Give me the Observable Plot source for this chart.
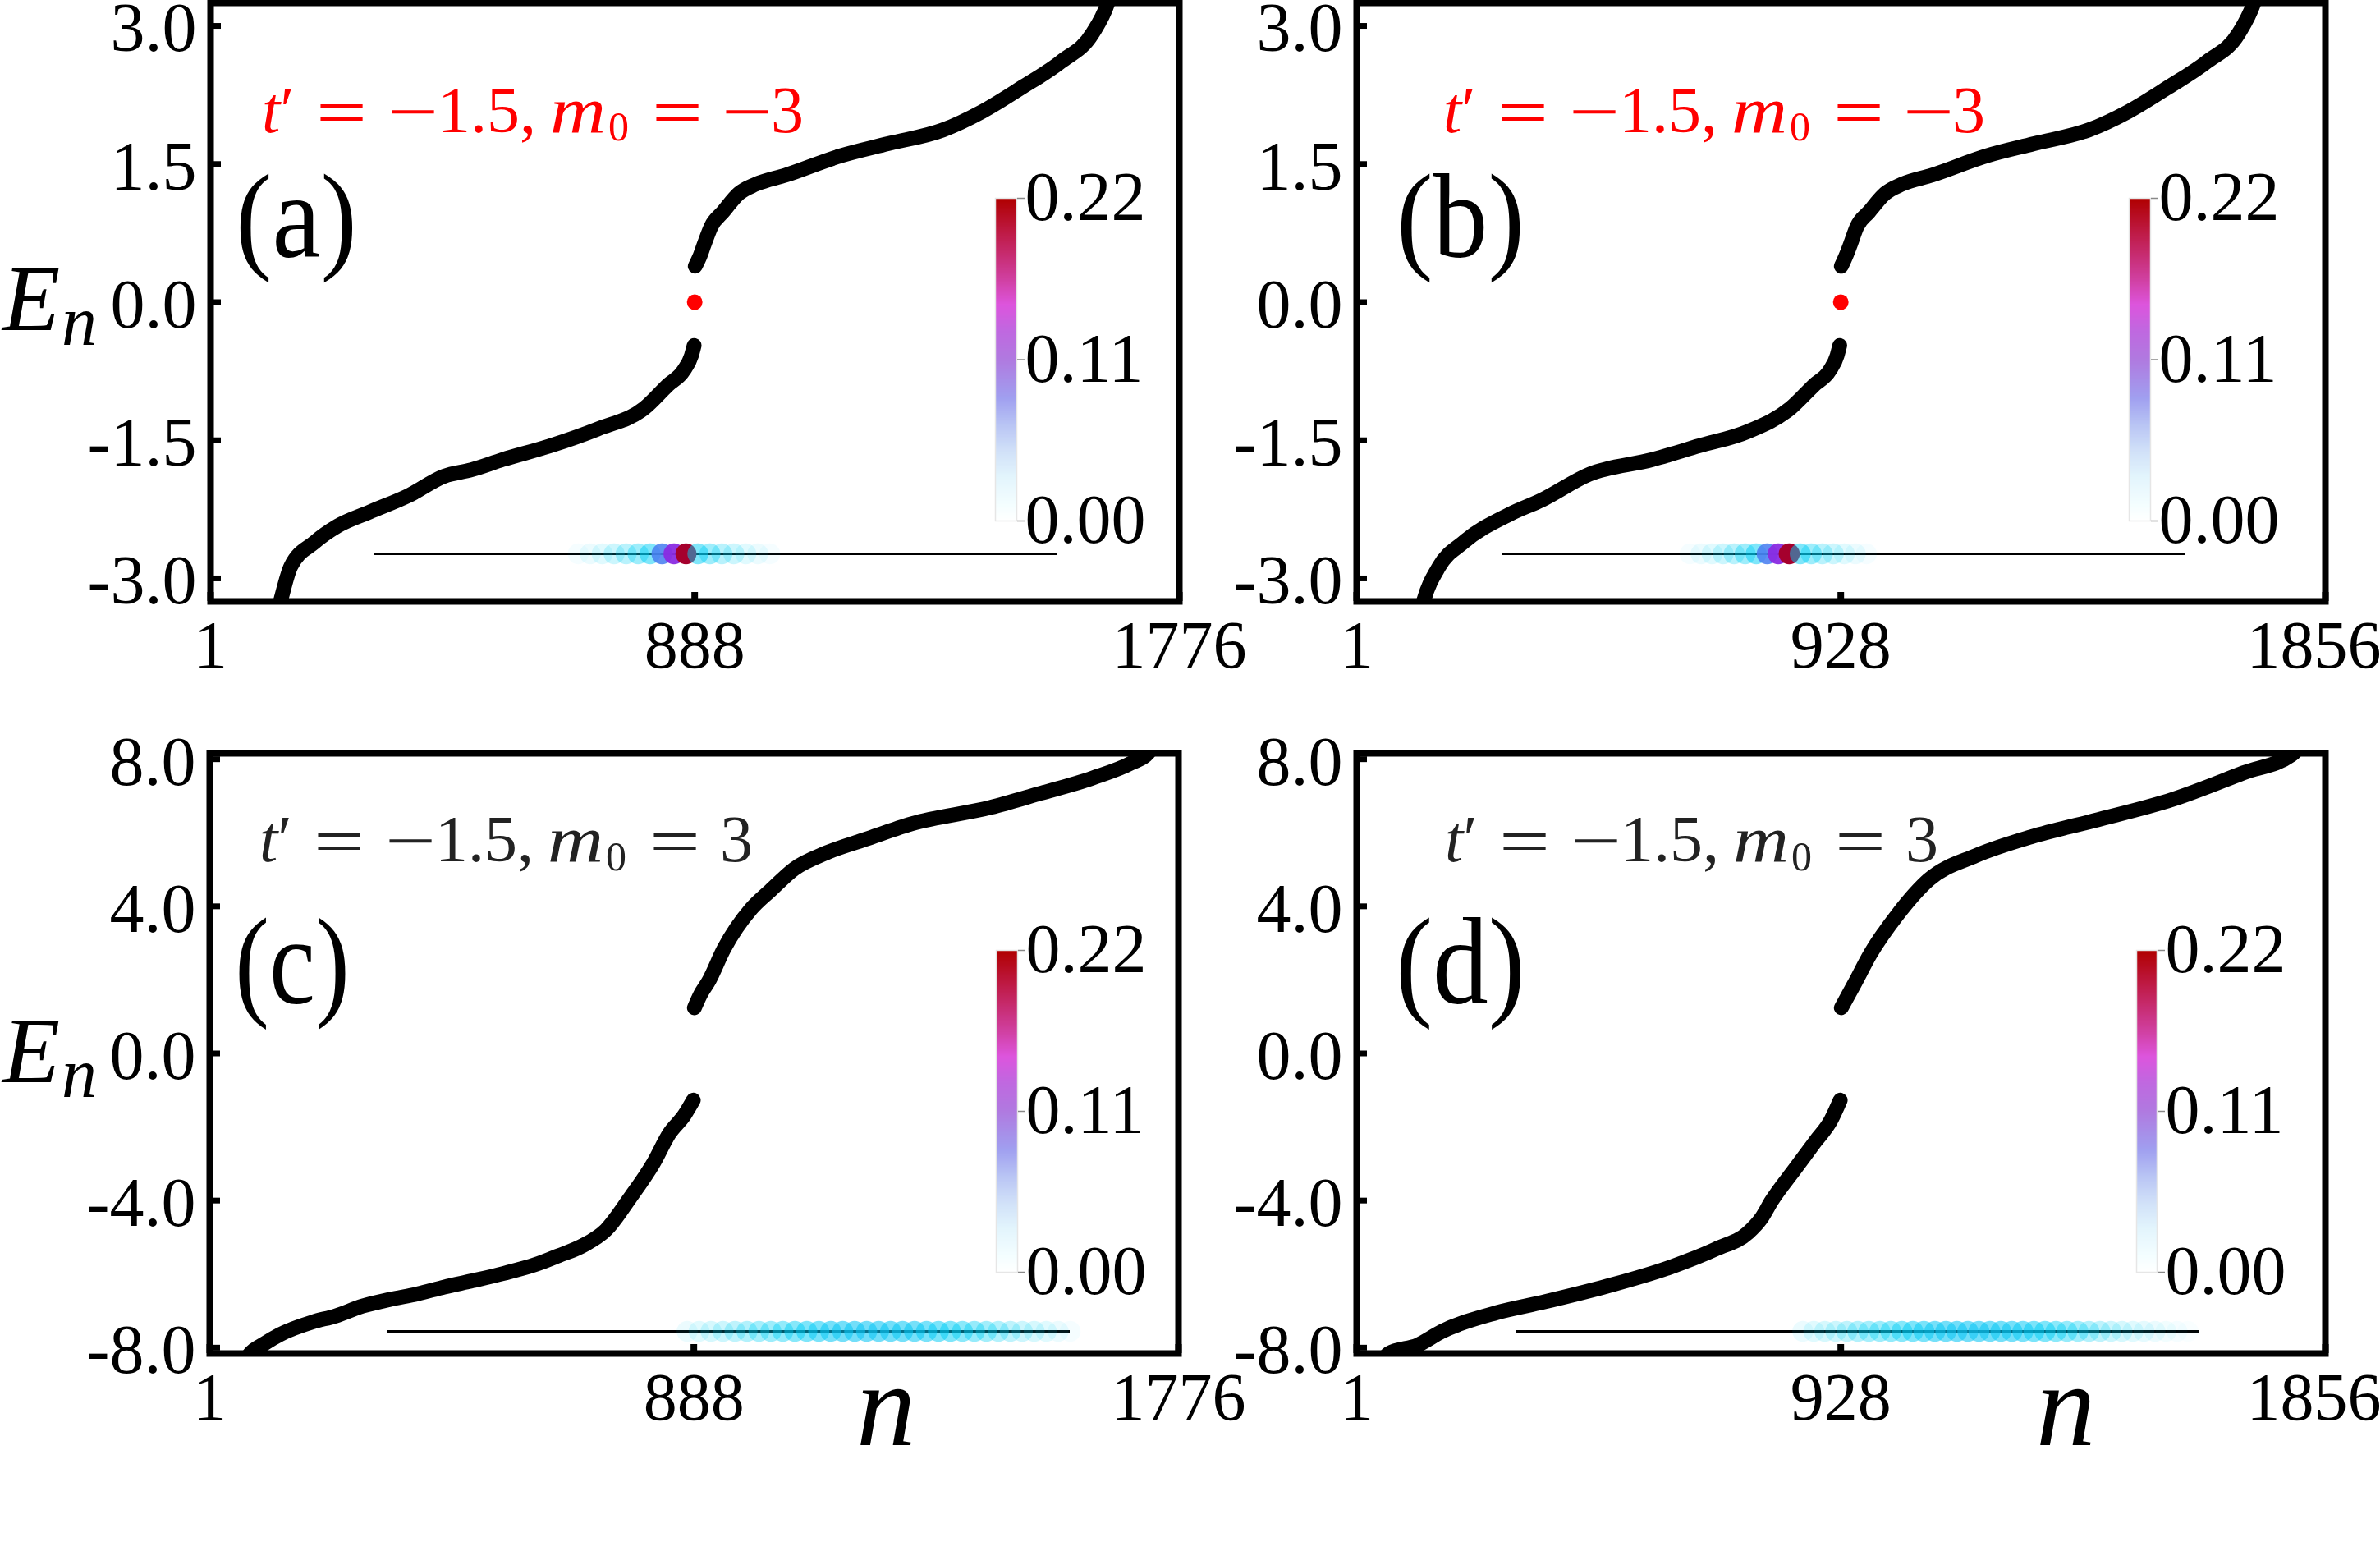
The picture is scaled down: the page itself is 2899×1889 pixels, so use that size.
<!DOCTYPE html>
<html><head><meta charset="utf-8">
<script src="https://cdn.jsdelivr.net/npm/d3@7"></script>
<script src="https://cdn.jsdelivr.net/npm/@observablehq/plot@0.6"></script>
<style>
body{margin:0;background:#fff;}
#fig{position:relative;width:2899px;height:1889px;background:#fff;overflow:hidden;}
</style></head><body><div id="fig"></div>
<script>
// ---------- DATA ----------
// Panel (a): N = 1776, t' = -1.5, m0 = -3
const aLowN = [120,129,148,191,234,292,364,429,479,536,623,709,796,839,868,882,887];
const aLowE = [-3.45,-3.25,-2.87,-2.61,-2.43,-2.28,-2.10,-1.89,-1.82,-1.71,-1.56,-1.38,-1.15,-0.90,-0.74,-0.58,-0.47];
const aUpN  = [889,897,905,918,940,969,1000,1055,1156,1242,1343,1415,1487,1559,1617,1645,1655];
const aUpE  = [0.39,0.49,0.62,0.82,0.98,1.18,1.28,1.38,1.59,1.72,1.87,2.07,2.33,2.61,2.92,3.25,3.45];
const aZeroN = [888];
const aZeroE = [0];
// Panel (b): N = 1856, t' = -1.5, m0 = -3
const bLowN = [120,129,159,205,295,355,446,567,657,748,832,877,907,921,926];
const bLowE = [-3.45,-3.25,-2.87,-2.61,-2.30,-2.15,-1.87,-1.71,-1.56,-1.41,-1.15,-0.90,-0.74,-0.58,-0.47];
const bUpN  = [929,937,946,959,982,1013,1045,1103,1208,1298,1403,1479,1554,1629,1690,1719,1730];
const bUpE  = [0.39,0.49,0.62,0.82,0.98,1.18,1.28,1.38,1.59,1.72,1.87,2.07,2.33,2.61,2.92,3.25,3.45];
const bZeroN = [928];
const bZeroE = [0];
// Panel (c): N = 1776, t' = -1.5, m0 = 3
const cLowN = [60,75,100,130,190,231,281,331,381,431,483,540,598,640,684,727,771,814,843,871,887];
const cLowE = [-8.5,-8.16,-7.9,-7.64,-7.30,-7.14,-6.87,-6.69,-6.54,-6.35,-6.18,-5.98,-5.74,-5.50,-5.23,-4.80,-3.93,-2.98,-2.18,-1.67,-1.27];
const cUpN  = [889,900,915,943,993,1029,1072,1130,1202,1288,1432,1518,1619,1690,1720,1735];
const cUpE  = [1.24,1.60,1.96,2.84,3.93,4.44,5.02,5.45,5.82,6.25,6.69,7.05,7.49,7.90,8.16,8.5];
// Panel (d): N = 1856, t' = -1.5, m0 = 3
const dLowN = [45,62,118,164,269,359,480,600,690,751,775,796,841,879,909,927];
const dLowE = [-8.5,-8.16,-7.93,-7.56,-7.05,-6.76,-6.33,-5.82,-5.31,-4.87,-4.50,-4.00,-3.13,-2.40,-1.82,-1.27];
const dUpN  = [929,954,984,1037,1097,1187,1293,1413,1564,1699,1795,1810];
const dUpE  = [1.24,1.89,2.69,3.78,4.73,5.38,5.89,6.33,6.91,7.63,8.16,8.5];

// Tick values
const yTicksTop = [-3.0,-1.5,0.0,1.5,3.0];
const yTicksBottom = [-8.0,-4.0,0.0,4.0,8.0];
const xTicksA = [1,888,1776];
const xTicksB = [1,928,1856];
const cbarTicks = [0.00,0.11,0.22];

// Inset: weight on chain sites (site index, weight)
const aSiteIdx = [17,18,19,20,21,22,23,24,25,26,27,28,29,30,31,32,33];
const aSiteP   = [0.0005,0.001,0.002,0.004,0.007,0.012,0.02,0.07,0.15,0.22,0.02,0.012,0.007,0.004,0.002,0.001,0.0005];
const bSiteIdx = [17,18,19,20,21,22,23,24,25,26,27,28,29,30,31,32,33];
const bSiteP   = [0.0005,0.001,0.002,0.004,0.007,0.012,0.02,0.07,0.15,0.22,0.02,0.012,0.007,0.004,0.002,0.001,0.0005];
const cSiteIdx = [25,26,27,28,29,30,31,32,33,34,35,36,37,38,39,40,41,42,43,44,45,46,47,48,49,50,51,52,53,54,55,56,57];
const cSiteP   = [0.001,0.002,0.003,0.004,0.006,0.008,0.010,0.012,0.015,0.018,0.021,0.024,0.027,0.029,0.030,0.030,0.030,0.029,0.028,0.027,0.025,0.023,0.020,0.017,0.014,0.011,0.008,0.006,0.004,0.003,0.002,0.001,0.0005];
const dSiteIdx = [26,27,28,29,30,31,32,33,34,35,36,37,38,39,40,41,42,43,44,45,46,47,48,49,50,51,52,53,54,55,56,57,58,59,60,61];
const dSiteP   = [0.001,0.002,0.003,0.004,0.006,0.008,0.010,0.012,0.015,0.018,0.021,0.024,0.027,0.029,0.030,0.030,0.030,0.029,0.028,0.027,0.025,0.023,0.020,0.017,0.014,0.011,0.008,0.006,0.004,0.003,0.002,0.0015,0.001,0.0007,0.0005,0.0003];

// Colour maps
const cbarMax = 0.22;
const cbarStops  = [0, 0.05, 0.14, 0.22, 0.30, 0.38, 0.50, 0.59, 0.67, 0.75, 0.88, 1];
const cbarColors = ["#ffffff","#f4feff","#e2f4fc","#d0e0f8","#b8c4f4","#a0a0f0","#b07ae0","#c068e0","#dd55dd","#d040a0","#c01e4e","#b00000"];
const dotStops  = [0, 0.001, 0.004, 0.01, 0.02, 0.035, 0.07, 0.15, 0.22];
const dotColors = ["rgba(0,210,245,0)","rgba(0,210,245,0.08)","rgba(0,210,245,0.2)","rgba(0,208,245,0.35)",
                   "rgba(0,205,245,0.5)","rgba(20,195,245,0.62)","rgba(74,128,240,0.88)","rgba(138,43,226,0.95)","rgba(165,0,45,1)"];

// ---------- FONT PICK ----------
function pickFont(cands, fallback) {
  const ctx = document.createElement("canvas").getContext("2d");
  const s = "mmmmmmmmmmlli1.5(a)WQ888-3.0";
  for (const f of cands) {
    for (const base of ["monospace", "sans-serif", "serif"]) {
      ctx.font = `72px ${base}`; const w0 = ctx.measureText(s).width;
      ctx.font = `72px "${f}", ${base}`; const w1 = ctx.measureText(s).width;
      if (Math.abs(w0 - w1) > 0.5) return f;
    }
  }
  return fallback;
}
const SERIF = pickFont(["Liberation Serif","DejaVu Serif","Noto Serif","Tinos","Times New Roman"], "Noto Sans");
const FONT = `'${SERIF}', serif`;

// ---------- DRAWING ----------
const fig = document.getElementById("fig");
const baseStyle = `overflow:visible;background:transparent;max-width:none;font-family:${FONT};color:#000;`;
function place(svg, left, top) {
  svg.style.position = "absolute";
  svg.style.left = left + "px";
  svg.style.top = top + "px";
  fig.appendChild(svg);
}
const rows = (ns, es) => ns.map((n, i) => ({n, E: es[i]}));

function mainPanel(o) {
  const innerW = o.frameR - o.frameL, innerH = o.frameB - o.frameT;
  const mL = o.frameL - o.left, mR = o.left + o.svgW - o.frameR;
  const mT = o.frameT - o.top, mB = o.top + o.svgH - o.frameB;
  const lineOpts = {x: "n", y: "E", stroke: "#000", strokeWidth: 18, strokeLinecap: "round", strokeLinejoin: "round",
                    curve: "monotone-x", clip: true};
  const xt = o.xTicks;
  const marks = [
    Plot.line(rows(o.lowN, o.lowE), lineOpts),
    Plot.line(rows(o.upN, o.upE), lineOpts)
  ];
  if (o.zeroN) marks.push(Plot.dot(rows(o.zeroN, o.zeroE), {x: "n", y: "E", r: 9.5, fill: "#ff0000"}));
  marks.push(
    Plot.tickY(o.yTicks, {y: d => d, insetRight: innerW - 13, stroke: "#000", strokeWidth: 7}),
    Plot.tickX(xt, {x: d => d, insetTop: innerH - 11, stroke: "#000", strokeWidth: 8}),
    Plot.axisY({ticks: o.yTicks, tickSize: 0, tickPadding: 17, dy: 4, tickFormat: d => d.toFixed(1), fontSize: 84, label: null}),
    Plot.axisX({ticks: xt.slice(0, 2), tickSize: 0, tickPadding: 22, tickFormat: d => String(d), fontSize: 82, label: null}),
    Plot.axisX({ticks: xt.slice(2), tickSize: 0, tickPadding: 22, tickFormat: d => String(d), fontSize: 82, label: null, dx: o.lastDx || 0}),
    Plot.frame({stroke: "#000", strokeWidth: 8})
  );
  const svg = Plot.plot({
    width: o.svgW, height: o.svgH,
    marginLeft: mL, marginRight: mR, marginTop: mT, marginBottom: mB,
    x: {domain: [1, o.N]}, y: {domain: o.yDomain},
    style: baseStyle,
    marks
  });
  place(svg, o.left, o.top);
}

function colorbar(x0, x1, y0, y1) {
  const w = x1 - x0, h = y1 - y0, pad = 60, extra = 170;
  const svg = Plot.plot({
    width: w + 2 * pad + extra, height: h + 2 * pad,
    marginLeft: pad, marginRight: pad + extra, marginTop: pad, marginBottom: pad,
    x: {domain: [0, 1], axis: null},
    y: {domain: [0, cbarMax], axis: null},
    color: {type: "linear", domain: cbarStops.map(s => s * cbarMax), range: cbarColors},
    style: baseStyle,
    marks: [
      Plot.raster({fill: (x, y) => y, x1: 0, x2: 1, y1: 0, y2: cbarMax, width: 2, height: 300, imageRendering: "auto"}),
      Plot.frame({stroke: "#e6e6e6", strokeWidth: 1.5}),
      Plot.axisY({anchor: "right", ticks: cbarTicks, tickSize: 9, tickPadding: 1, stroke: "#888", strokeWidth: 1.5,
                  tickFormat: d => d.toFixed(2), fontSize: 84, label: null})
    ]
  });
  place(svg, x0 - pad, y0 - pad);
}

function inset(x0, x1, yc, L, idx, p) {
  const m = 20, h = 60;
  const svg = Plot.plot({
    width: (x1 - x0) + 2 * m, height: h,
    marginLeft: m, marginRight: m, marginTop: 0, marginBottom: 0,
    x: {domain: [0, L - 1], axis: null},
    y: {domain: [-1, 1], axis: null},
    color: {type: "linear", domain: dotStops, range: dotColors, clamp: true},
    style: baseStyle,
    marks: [
      Plot.ruleY([0], {stroke: "#000", strokeWidth: 3}),
      Plot.dot(idx.map((i, k) => ({i, p: p[k]})), {x: "i", y: 0, r: 12.8, fill: "p", stroke: null})
    ]
  });
  place(svg, x0 - m, yc - h / 2);
}

// Panels
mainPanel({left: 0, top: 0, svgW: 1490, svgH: 880, frameL: 256, frameR: 1436, frameT: 3, frameB: 732,
  N: 1776, yDomain: [-3.25, 3.25], yTicks: yTicksTop, xTicks: xTicksA,
  lowN: aLowN, lowE: aLowE, upN: aUpN, upE: aUpE, zeroN: aZeroN, zeroE: aZeroE});
mainPanel({left: 1490, top: 0, svgW: 1409, svgH: 880, frameL: 1652, frameR: 2832, frameT: 3, frameB: 732,
  N: 1856, yDomain: [-3.25, 3.25], yTicks: yTicksTop, xTicks: xTicksB, lastDx: -14,
  lowN: bLowN, lowE: bLowE, upN: bUpN, upE: bUpE, zeroN: bZeroN, zeroE: bZeroE});
mainPanel({left: 0, top: 880, svgW: 1490, svgH: 1009, frameL: 255, frameR: 1435, frameT: 917, frameB: 1648,
  N: 1776, yDomain: [-8.16, 8.16], yTicks: yTicksBottom, xTicks: xTicksA,
  lowN: cLowN, lowE: cLowE, upN: cUpN, upE: cUpE});
mainPanel({left: 1490, top: 880, svgW: 1409, svgH: 1009, frameL: 1652, frameR: 2832, frameT: 917, frameB: 1648,
  N: 1856, yDomain: [-8.16, 8.16], yTicks: yTicksBottom, xTicks: xTicksB, lastDx: -14,
  lowN: dLowN, lowE: dLowE, upN: dUpN, upE: dUpE});

// Insets (chain with site weights)
inset(456, 1287, 674, 58, aSiteIdx, aSiteP);
inset(1830, 2662, 674, 63, bSiteIdx, bSiteP);
inset(472, 1303, 1621, 58, cSiteIdx, cSiteP);
inset(1847, 2678, 1621, 63, dSiteIdx, dSiteP);

// Colorbars
colorbar(1212, 1238, 241, 634);
colorbar(2593, 2619, 241, 634);
colorbar(1213, 1239, 1157, 1549);
colorbar(2602, 2627, 1157, 1549);

// ---------- TEXT OVERLAY ----------
const ov = d3.create("svg").attr("width", 2899).attr("height", 1889)
  .style("position", "absolute").style("left", "0px").style("top", "0px").style("overflow", "visible")
  .style("font-family", FONT);
fig.appendChild(ov.node());

// one <text> per label, pieces as <tspan>s
function richText(x0, y0, color, size, chunks) {
  const t = ov.append("text").attr("y", y0).attr("font-size", size).attr("fill", color);
  let cur = 0;
  for (const c of chunks) {
    const s = t.append("tspan").text(c.t);
    if (c.x != null) s.attr("x", x0 + c.x);
    const want = c.dy || 0;
    if (want !== cur) { s.attr("dy", want - cur); cur = want; }
    if (c.i) s.attr("font-style", "italic");
    if (c.size) s.attr("font-size", c.size);
    if (c.len) s.attr("textLength", c.len).attr("lengthAdjust", "spacingAndGlyphs");
  }
  return t;
}
const mathNeg = [
  {t: "t", i: 1, x: 0}, {t: "′"},
  {t: "=", x: 66, len: 62, dy: 3}, {t: "−", x: 153, len: 62, dy: 2},
  {t: "1.5,", x: 214},
  {t: "m", i: 1, x: 351, len: 68}, {t: "0", x: 422, size: 50, dy: 10},
  {t: "=", x: 475, len: 62, dy: 3}, {t: "−", x: 560, len: 62, dy: 2},
  {t: "3", x: 620}
];
const mathPos = [
  {t: "t", i: 1, x: 0}, {t: "′"},
  {t: "=", x: 66, len: 62, dy: 3}, {t: "−", x: 153, len: 62, dy: 2},
  {t: "1.5,", x: 214},
  {t: "m", i: 1, x: 351, len: 68}, {t: "0", x: 422, size: 50, dy: 11},
  {t: "=", x: 475, len: 62, dy: 3},
  {t: "3", x: 561}
];
richText(319, 161, "#ff0000", 80, mathNeg);
richText(1758, 161, "#ff0000", 80, mathNeg);
richText(316, 1049, "#222", 80, mathPos);
richText(1760, 1049, "#222", 80, mathPos);

richText(287, 313, "#000", 146, [{t: "(a)", x: 0, len: 148}]);
richText(1701, 313, "#000", 146, [{t: "(b)", x: 0, len: 156}]);
richText(286, 1222, "#000", 150, [{t: "(c)", x: 0, len: 140}]);
richText(1700, 1222, "#000", 150, [{t: "(d)", x: 0, len: 158}]);

richText(3, 402, "#000", 115, [{t: "E", i: 1, x: 0}, {t: "n", i: 1, x: 72, size: 86, dy: 18}]);
richText(3, 1318, "#000", 115, [{t: "E", i: 1, x: 0}, {t: "n", i: 1, x: 72, size: 86, dy: 18}]);

richText(1043, 1760, "#000", 145, [{t: "n", i: 1, x: 0}]);
richText(2480, 1760, "#000", 145, [{t: "n", i: 1, x: 0}]);
</script></body></html>
